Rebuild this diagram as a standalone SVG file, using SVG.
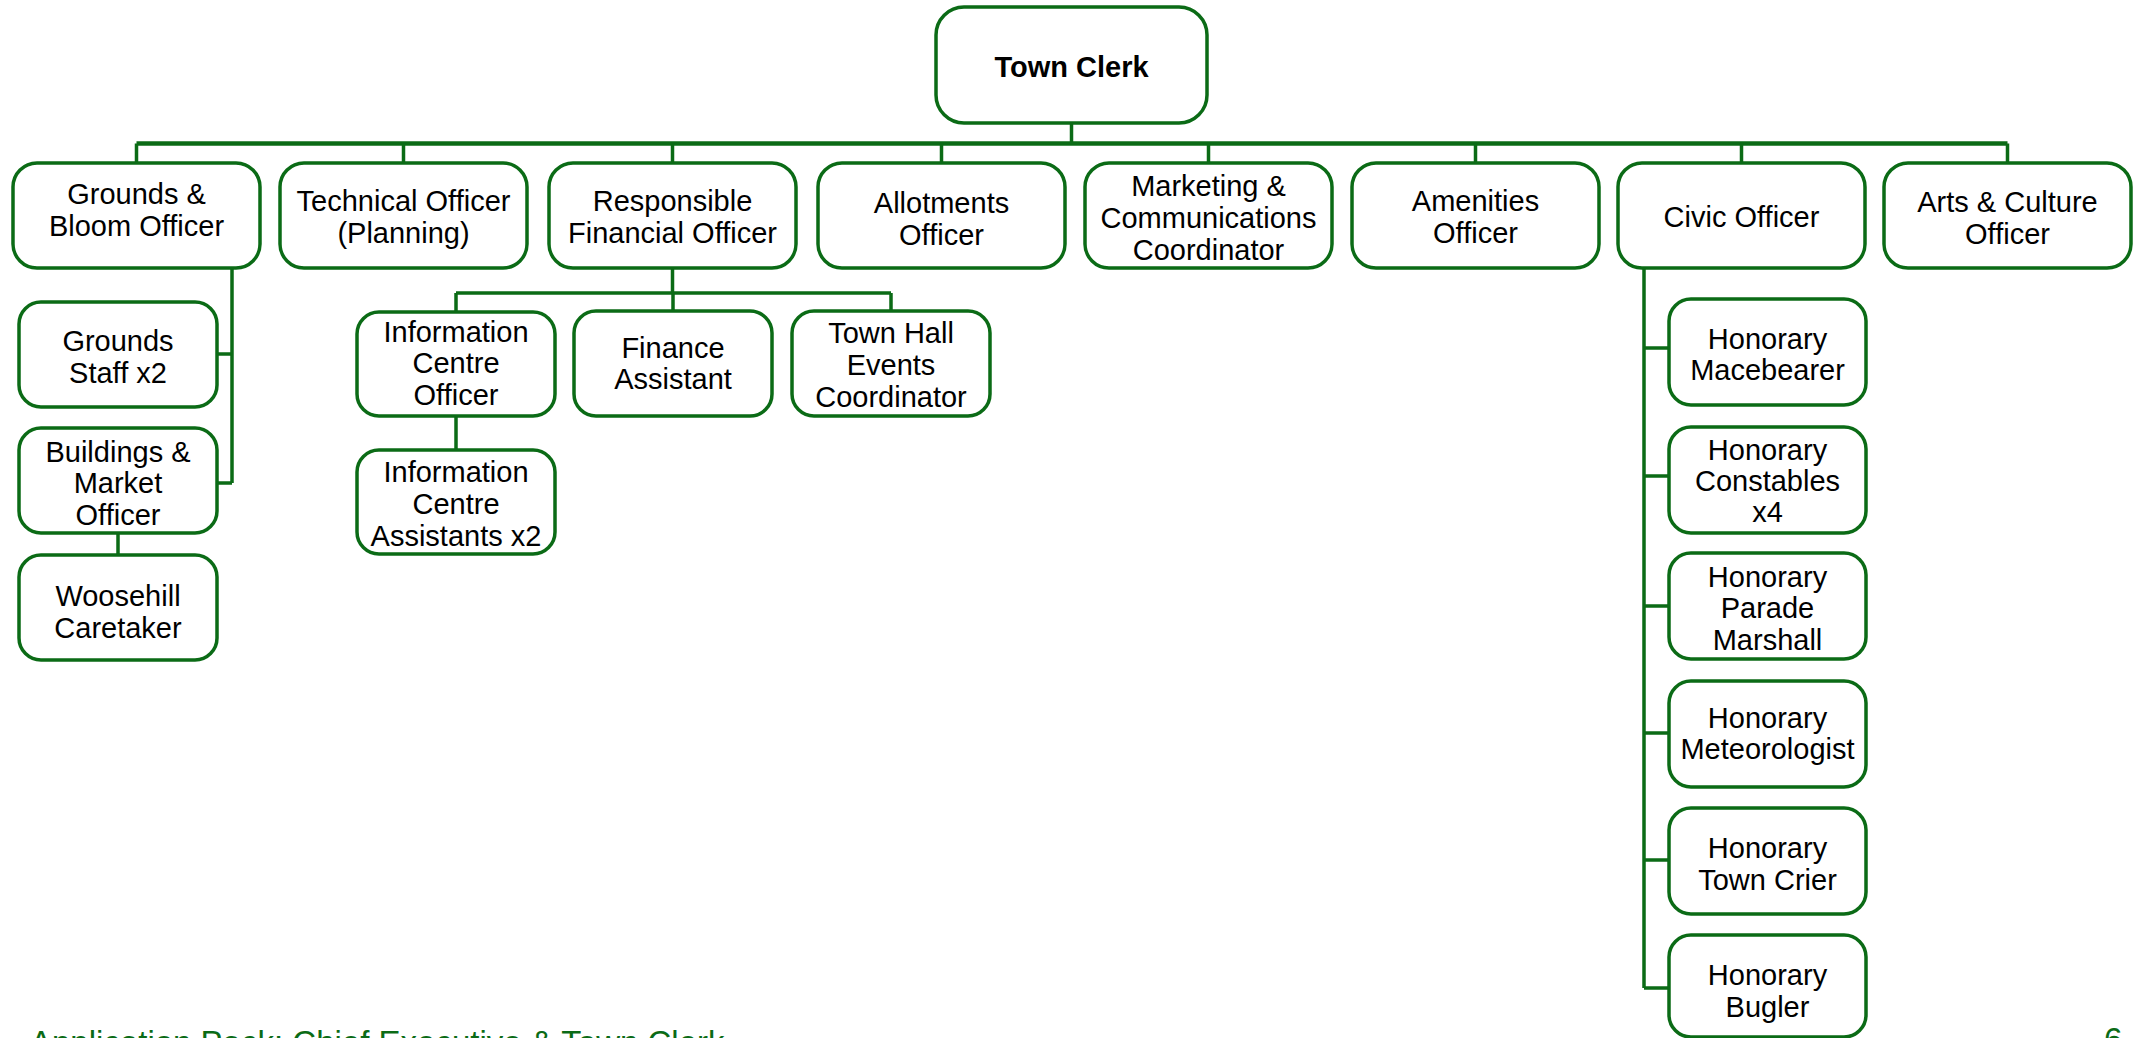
<svg xmlns="http://www.w3.org/2000/svg" width="2139" height="1038" viewBox="0 0 2139 1038">
<style>
.box{fill:#fff;stroke:#0B6B16;stroke-width:3.5}
.t{font-family:"Liberation Sans",Arial,sans-serif;font-size:29px;fill:#000;text-anchor:middle}
.b{font-weight:bold}
.c{fill:none;stroke:#0B6B16;stroke-width:3.5}
.bus{stroke-width:4.5}
.foot{font-family:"Liberation Sans",Arial,sans-serif;font-size:33px;fill:#0B6B16}
</style>
<rect width="2139" height="1038" fill="#fff"/>
<g id="connectors">
<path class="c" d="M1071.5 123V143.5"/>
<path class="c bus" d="M136.5 143.5H2007.5"/>
<path class="c" d="M136.5 143.5V163M403.5 143.5V163M672.5 143.5V163M941.5 143.5V163M1208.5 143.5V163M1475.5 143.5V163M1741.5 143.5V163M2007.5 143.5V163"/>
<path class="c" d="M232 268V483M217 354H232M217 483H232M118 533V555"/>
<path class="c" d="M672.5 268V293M456 293H891M456 293V312M673 293V311M891 293V311M456 416V450"/>
<path class="c" d="M1644 268V988M1644 348H1669M1644 476H1669M1644 606H1669M1644 733H1669M1644 860H1669M1644 988H1669"/>
</g>
<g id="town-clerk"><rect class="box" x="936" y="7" width="271" height="116" rx="28"/><text class="t b" x="1071.5" y="77">Town Clerk</text></g>
<g id="grounds-bloom"><rect class="box" x="13" y="163" width="247" height="105" rx="24"/><text class="t" x="136.5" y="204">Grounds &amp;</text><text class="t" x="136.5" y="236">Bloom Officer</text></g>
<g id="technical"><rect class="box" x="280" y="163" width="247" height="105" rx="24"/><text class="t" x="403.5" y="211">Technical Officer</text><text class="t" x="403.5" y="243">(Planning)</text></g>
<g id="rfo"><rect class="box" x="549" y="163" width="247" height="105" rx="24"/><text class="t" x="672.5" y="211">Responsible</text><text class="t" x="672.5" y="243">Financial Officer</text></g>
<g id="allotments"><rect class="box" x="818" y="163" width="247" height="105" rx="24"/><text class="t" x="941.5" y="213">Allotments</text><text class="t" x="941.5" y="245">Officer</text></g>
<g id="marketing"><rect class="box" x="1085" y="163" width="247" height="105" rx="24"/><text class="t" x="1208.5" y="196">Marketing &amp;</text><text class="t" x="1208.5" y="228">Communications</text><text class="t" x="1208.5" y="260">Coordinator</text></g>
<g id="amenities"><rect class="box" x="1352" y="163" width="247" height="105" rx="24"/><text class="t" x="1475.5" y="211">Amenities</text><text class="t" x="1475.5" y="243">Officer</text></g>
<g id="civic"><rect class="box" x="1618" y="163" width="247" height="105" rx="24"/><text class="t" x="1741.5" y="227">Civic Officer</text></g>
<g id="arts"><rect class="box" x="1884" y="163" width="247" height="105" rx="24"/><text class="t" x="2007.5" y="212">Arts &amp; Culture</text><text class="t" x="2007.5" y="244">Officer</text></g>
<g id="grounds-staff"><rect class="box" x="19" y="302" width="198" height="105" rx="22"/><text class="t" x="118" y="351">Grounds</text><text class="t" x="118" y="383">Staff x2</text></g>
<g id="buildings-market"><rect class="box" x="19" y="428" width="198" height="105" rx="22"/><text class="t" x="118" y="462">Buildings &amp;</text><text class="t" x="118" y="493">Market</text><text class="t" x="118" y="525">Officer</text></g>
<g id="woosehill"><rect class="box" x="19" y="555" width="198" height="105" rx="22"/><text class="t" x="118" y="606">Woosehill</text><text class="t" x="118" y="638">Caretaker</text></g>
<g id="info-officer"><rect class="box" x="357" y="312" width="198" height="104" rx="22"/><text class="t" x="456" y="342">Information</text><text class="t" x="456" y="373">Centre</text><text class="t" x="456" y="405">Officer</text></g>
<g id="info-assistants"><rect class="box" x="357" y="450" width="198" height="104" rx="22"/><text class="t" x="456" y="482">Information</text><text class="t" x="456" y="514">Centre</text><text class="t" x="456" y="546">Assistants x2</text></g>
<g id="finance-assistant"><rect class="box" x="574" y="311" width="198" height="105" rx="22"/><text class="t" x="673" y="358">Finance</text><text class="t" x="673" y="389">Assistant</text></g>
<g id="town-hall"><rect class="box" x="792" y="311" width="198" height="105" rx="22"/><text class="t" x="891" y="343">Town Hall</text><text class="t" x="891" y="375">Events</text><text class="t" x="891" y="407">Coordinator</text></g>
<g id="macebearer"><rect class="box" x="1669" y="299" width="197" height="106" rx="22"/><text class="t" x="1767.5" y="349">Honorary</text><text class="t" x="1767.5" y="380">Macebearer</text></g>
<g id="constables"><rect class="box" x="1669" y="427" width="197" height="106" rx="22"/><text class="t" x="1767.5" y="460">Honorary</text><text class="t" x="1767.5" y="491">Constables</text><text class="t" x="1767.5" y="522">x4</text></g>
<g id="parade-marshall"><rect class="box" x="1669" y="553" width="197" height="106" rx="22"/><text class="t" x="1767.5" y="587">Honorary</text><text class="t" x="1767.5" y="618">Parade</text><text class="t" x="1767.5" y="650">Marshall</text></g>
<g id="meteorologist"><rect class="box" x="1669" y="681" width="197" height="106" rx="22"/><text class="t" x="1767.5" y="728">Honorary</text><text class="t" x="1767.5" y="759">Meteorologist</text></g>
<g id="town-crier"><rect class="box" x="1669" y="808" width="197" height="106" rx="22"/><text class="t" x="1767.5" y="858">Honorary</text><text class="t" x="1767.5" y="890">Town Crier</text></g>
<g id="bugler"><rect class="box" x="1669" y="935" width="197" height="102" rx="22"/><text class="t" x="1767.5" y="985">Honorary</text><text class="t" x="1767.5" y="1017">Bugler</text></g>
<text class="foot" x="30" y="1054">Application Pack: Chief Executive &amp; Town Clerk</text>
<text class="foot" x="2104" y="1051">6</text>
</svg>
